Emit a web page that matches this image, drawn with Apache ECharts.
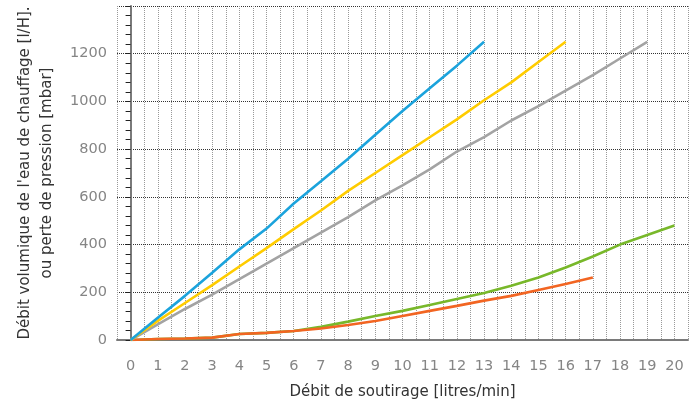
<!DOCTYPE html>
<html>
<head>
<meta charset="utf-8">
<script src="https://cdn.jsdelivr.net/npm/echarts@6/dist/echarts.min.js"></script>
<style>
  html, body { margin: 0; padding: 0; background: #fff; }
  #chart { width: 691px; height: 405px; }
</style>
</head>
<body>
<div id="chart"></div>
<script>
// courbes, un point par litre/min a partir de 0
var blueVals   = [0, 93, 185, 282, 380, 467, 572, 665, 760, 860, 960, 1055, 1150, 1250];
var yellowVals = [0, 80, 155, 230, 308, 385, 465, 543, 625, 700, 775, 850, 925, 1005, 1080, 1165, 1250];
var grayVals   = [0, 65, 130, 190, 255, 320, 385, 450, 515, 585, 648, 715, 790, 850, 920, 980, 1045, 1110, 1180, 1250];
var greenVals  = [0, 4, 6, 10, 25, 30, 38, 55, 77, 101, 122, 147, 172, 197, 227, 262, 304, 350, 400, 440, 480];
var orangeVals = [0, 4, 6, 10, 25, 30, 38, 48, 63, 80, 101, 122, 143, 165, 185, 210, 235, 262];

var colors = {
    blue: '#1ba3dc',
    yellow: '#ffcc00',
    gray: '#a3a3a3',
    green: '#78b82a',
    orange: '#f26522'
};

var FONT = 'DejaVu Sans';

function toPoints(vals) {
    var res = [];
    for (var i = 0; i < vals.length; i++) {
        res.push([i, vals[i]]);
    }
    return res;
}

function lineSerie(vals, color, z) {
    return {
        type: 'line',
        data: toPoints(vals),
        symbol: 'none',
        z: z,
        lineStyle: { color: color, width: 2.6 }
    };
}

var chart = echarts.init(document.getElementById('chart'));

var option = {
    animation: false,
    grid: { left: 117, right: 3, top: 6, bottom: 65, outerBoundsMode: 'none', containLabel: false },
    xAxis: {
        type: 'value',
        min: -0.5,
        max: 20.5,
        interval: 0.5,
        name: 'Débit de soutirage [litres/min]',
        nameLocation: 'middle',
        nameGap: 45,
        nameTextStyle: { color: '#333', fontSize: 15, fontFamily: FONT },
        axisLine: { lineStyle: { color: '#7a7a7a', width: 2 } },
        axisTick: { show: false },
        axisLabel: {
            color: '#858585',
            fontSize: 14.5,
            fontFamily: FONT,
            margin: 19,
            formatter: function (v) {
                return (v % 1 === 0 && v >= 0) ? String(v) : '';
            }
        },
        splitLine: { show: true, lineStyle: { color: '#999', type: 'dotted', width: 1 } }
    },
    yAxis: {
        type: 'value',
        min: 0,
        max: 1400,
        interval: 200,
        name: "Débit volumique de l'eau de chauffage [l/H].\nou perte de pression [mbar]",
        nameLocation: 'middle',
        nameRotate: 90,
        nameGap: 59,
        nameTextStyle: { color: '#333', fontSize: 15, fontFamily: FONT, lineHeight: 22 },
        axisLine: { show: true, lineStyle: { color: '#7a7a7a', width: 2 } },
        axisTick: { show: true, length: 5, lineStyle: { color: '#222' } },
        minorTick: { show: true, splitNumber: 5, length: 5, lineStyle: { color: '#222' } },
        axisLabel: {
            color: '#858585',
            fontSize: 14.5,
            fontFamily: FONT,
            margin: 10,
            formatter: function (v) { return v === 1400 ? '' : String(v); }
        },
        splitLine: { show: true, lineStyle: { color: '#333', type: 'dotted', width: 1 } }
    },
    series: [
        lineSerie(greenVals, colors.green, 2),
        lineSerie(orangeVals, colors.orange, 3),
        lineSerie(grayVals, colors.gray, 4),
        lineSerie(yellowVals, colors.yellow, 5),
        lineSerie(blueVals, colors.blue, 6)
    ]
};

chart.setOption(option);
</script>
</body>
</html>
